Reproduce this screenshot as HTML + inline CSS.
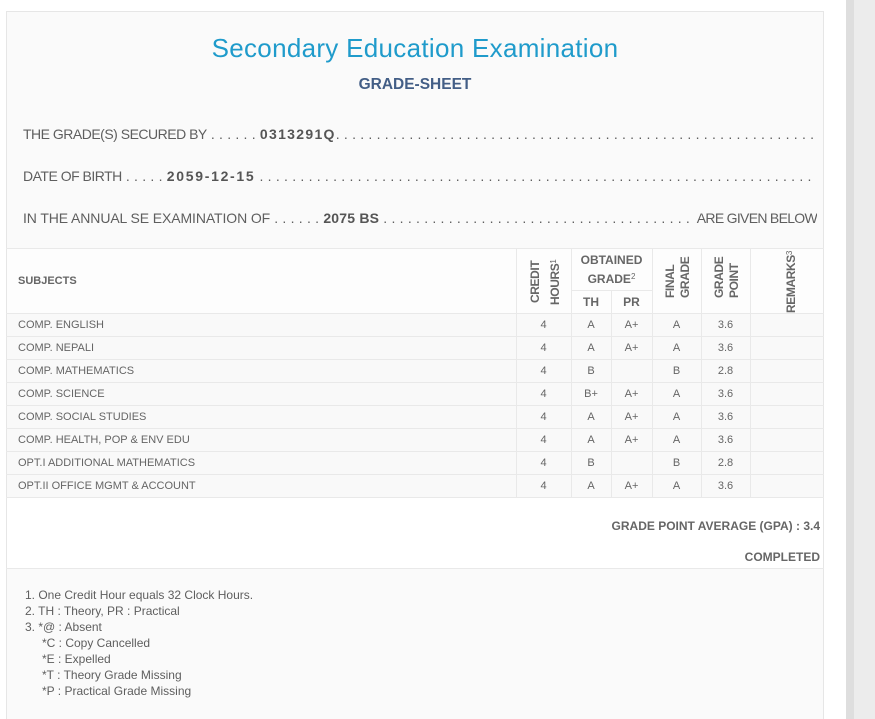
<!DOCTYPE html>
<html><head><meta charset="utf-8">
<style>
*{margin:0;padding:0;box-sizing:border-box}
html,body{width:875px;height:719px;overflow:hidden;background:#fff;font-family:"Liberation Sans",Arial,sans-serif}
#w{position:relative;width:875px;height:719px;overflow:hidden}
.a{position:absolute;white-space:nowrap}
.hl{position:absolute;height:1px;background:#e9e9e9}
.vl{position:absolute;width:1px;background:#e9e9e9}
.info{position:absolute;left:23px;width:794px;height:20px;line-height:20px;font-size:14px;color:#5e5e5e;white-space:nowrap;overflow:hidden;display:flex}
.info b{color:#555}
.dots{letter-spacing:0.2px}
.r{position:absolute;left:7px;width:816px;height:22px;line-height:22px;font-size:11px;color:#656565}
.r span{position:absolute;text-align:center}
.r .s{left:11px}
.c1{left:509px;width:55px}
.c2{left:564px;width:40px}
.c3{left:604px;width:41px}
.c4{left:645px;width:49px}
.c5{left:694px;width:49px}
.rot{position:absolute;font-weight:bold;font-size:12px;line-height:12px;letter-spacing:-0.4px;color:#666;transform-origin:0 0;transform:rotate(-90deg);white-space:nowrap}
.rot sup{font-size:8px;font-weight:normal;vertical-align:3px;line-height:0;letter-spacing:0}
.hd{position:absolute;font-weight:bold;font-size:12px;line-height:20px;height:20px;color:#666;text-align:center;white-space:nowrap}
.fn{position:absolute;left:25px;font-size:12px;line-height:16px;color:#5e5e5e;white-space:nowrap}
</style></head><body><div id="w">
<div class="a" style="left:846px;top:0;width:8px;height:719px;background:#dedede"></div>
<div class="a" style="left:854px;top:0;width:21px;height:719px;background:#ececec"></div>

<div class="a" style="left:6px;top:11px;width:818px;height:708px;border:1px solid #e6e6e6;border-bottom:none;background:#fafafa"></div>
<div class="a" style="left:7px;top:249px;width:816px;height:64px;background:#fdfdfd"></div>
<div class="a" style="left:7px;top:314px;width:816px;height:183px;background:#f9f9f9"></div>
<div class="a" style="left:7px;top:498px;width:816px;height:70px;background:#fff"></div>

<div class="a" style="left:6px;top:33px;width:818px;text-align:center;font-size:26px;line-height:30px;letter-spacing:0.3px;color:#1f9bcb">Secondary Education Examination</div>
<div class="a" style="left:6px;top:75px;width:818px;text-align:center;font-size:15.5px;line-height:20px;font-weight:bold;color:#435e86">GRADE-SHEET</div>

<div class="info" style="top:124px"><span style="letter-spacing:-0.5px">THE GRADE(S) SECURED BY</span><span class="dots">&nbsp;. . . . . .&nbsp;</span><b style="letter-spacing:1.3px">0313291Q</b><span class="dots">. . . . . . . . . . . . . . . . . . . . . . . . . . . . . . . . . . . . . . . . . . . . . . . . . . . . . . . . . . . . . . . . . . . . . . . . . . . .</span></div>
<div class="info" style="top:166px"><span style="letter-spacing:-0.5px">DATE OF BIRTH</span><span class="dots">&nbsp;. . . . .&nbsp;</span><b style="letter-spacing:1.7px">2059-12-15</b><span class="dots">&nbsp;. . . . . . . . . . . . . . . . . . . . . . . . . . . . . . . . . . . . . . . . . . . . . . . . . . . . . . . . . . . . . . . . . . . . . . . . . . . . . . . . . . . .</span></div>
<div class="info" style="top:208px"><span style="letter-spacing:-0.1px">IN THE ANNUAL SE EXAMINATION OF</span><span class="dots">&nbsp;. . . . . .&nbsp;</span><b style="letter-spacing:0.2px">2075 BS</b><span class="dots" style="flex:1;overflow:hidden">&nbsp;. . . . . . . . . . . . . . . . . . . . . . . . . . . . . . . . . . . . . . . . . . . . . . . . . . . . . . . . .</span><span style="letter-spacing:-0.7px;margin-left:3px">ARE GIVEN BELOW</span></div>

<div class="hl" style="left:6px;top:248px;width:818px"></div>
<div class="hl" style="left:571px;top:290px;width:81px"></div>
<div class="hl" style="left:6px;top:313px;width:818px"></div>
<div class="hl" style="left:6px;top:336px;width:818px"></div>
<div class="hl" style="left:6px;top:359px;width:818px"></div>
<div class="hl" style="left:6px;top:382px;width:818px"></div>
<div class="hl" style="left:6px;top:405px;width:818px"></div>
<div class="hl" style="left:6px;top:428px;width:818px"></div>
<div class="hl" style="left:6px;top:451px;width:818px"></div>
<div class="hl" style="left:6px;top:474px;width:818px"></div>
<div class="hl" style="left:6px;top:497px;width:818px"></div>
<div class="hl" style="left:6px;top:568px;width:818px"></div>
<div class="vl" style="left:516px;top:248px;height:250px"></div>
<div class="vl" style="left:571px;top:248px;height:250px"></div>
<div class="vl" style="left:611px;top:290px;height:208px"></div>
<div class="vl" style="left:652px;top:248px;height:250px"></div>
<div class="vl" style="left:701px;top:248px;height:250px"></div>
<div class="vl" style="left:750px;top:248px;height:250px"></div>

<div class="a" style="left:18px;top:271px;font-size:11px;line-height:20px;font-weight:bold;color:#666">SUBJECTS</div>
<div class="rot" style="left:529px;top:303px">CREDIT</div>
<div class="rot" style="left:549px;top:305px">HOURS<sup>1</sup></div>
<div class="hd" style="left:571px;top:250px;width:81px">OBTAINED</div>
<div class="hd" style="left:571px;top:269px;width:81px">GRADE<sup style="font-size:8px;font-weight:normal;vertical-align:4px;line-height:0">2</sup></div>
<div class="hd" style="left:571px;top:292px;width:40px">TH</div>
<div class="hd" style="left:611px;top:292px;width:41px">PR</div>
<div class="rot" style="left:664px;top:298px">FINAL</div>
<div class="rot" style="left:679px;top:298px">GRADE</div>
<div class="rot" style="left:713px;top:298px">GRADE</div>
<div class="rot" style="left:728px;top:298px">POINT</div>
<div class="rot" style="left:785px;top:313px">REMARKS<sup>3</sup></div>

<div class="r" style="top:314px"><span class="s">COMP. ENGLISH</span><span class="c1">4</span><span class="c2">A</span><span class="c3">A+</span><span class="c4">A</span><span class="c5">3.6</span></div>
<div class="r" style="top:337px"><span class="s">COMP. NEPALI</span><span class="c1">4</span><span class="c2">A</span><span class="c3">A+</span><span class="c4">A</span><span class="c5">3.6</span></div>
<div class="r" style="top:360px"><span class="s">COMP. MATHEMATICS</span><span class="c1">4</span><span class="c2">B</span><span class="c3"></span><span class="c4">B</span><span class="c5">2.8</span></div>
<div class="r" style="top:383px"><span class="s">COMP. SCIENCE</span><span class="c1">4</span><span class="c2">B+</span><span class="c3">A+</span><span class="c4">A</span><span class="c5">3.6</span></div>
<div class="r" style="top:406px"><span class="s">COMP. SOCIAL STUDIES</span><span class="c1">4</span><span class="c2">A</span><span class="c3">A+</span><span class="c4">A</span><span class="c5">3.6</span></div>
<div class="r" style="top:429px"><span class="s">COMP. HEALTH, POP &amp; ENV EDU</span><span class="c1">4</span><span class="c2">A</span><span class="c3">A+</span><span class="c4">A</span><span class="c5">3.6</span></div>
<div class="r" style="top:452px"><span class="s">OPT.I ADDITIONAL MATHEMATICS</span><span class="c1">4</span><span class="c2">B</span><span class="c3"></span><span class="c4">B</span><span class="c5">2.8</span></div>
<div class="r" style="top:475px"><span class="s">OPT.II OFFICE MGMT &amp; ACCOUNT</span><span class="c1">4</span><span class="c2">A</span><span class="c3">A+</span><span class="c4">A</span><span class="c5">3.6</span></div>

<div class="a" style="left:500px;top:516px;width:320px;text-align:right;font-size:12px;line-height:20px;font-weight:bold;color:#666">GRADE POINT AVERAGE (GPA) : 3.4</div>
<div class="a" style="left:500px;top:547px;width:320px;text-align:right;font-size:12px;line-height:20px;font-weight:bold;color:#666">COMPLETED</div>

<div class="fn" style="top:587px">1. One Credit Hour equals 32 Clock Hours.</div>
<div class="fn" style="top:603px">2. TH : Theory, PR : Practical</div>
<div class="fn" style="top:619px">3. *@ : Absent</div>
<div class="fn" style="top:635px;left:42px">*C : Copy Cancelled</div>
<div class="fn" style="top:651px;left:42px">*E : Expelled</div>
<div class="fn" style="top:667px;left:42px">*T : Theory Grade Missing</div>
<div class="fn" style="top:683px;left:42px">*P : Practical Grade Missing</div>
</div></body></html>
